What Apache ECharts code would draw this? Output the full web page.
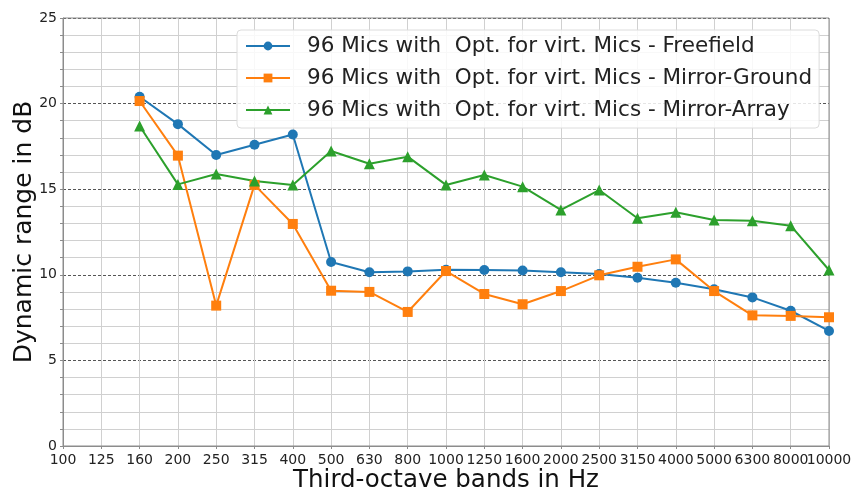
<!DOCTYPE html>
<html lang="en">
<head>
    <meta charset="UTF-8">
    <title>Dynamic range</title>
    <script type="text/javascript" src="https://cdn.jsdelivr.net/npm/echarts@6/dist/echarts.min.js"></script>
    <style>
        html, body { margin: 0; padding: 0; background: #fff; }
        #charts { width: 852px; height: 492px; }
    </style>
</head>
<body>
<div id="charts"></div>
<script>
    // third-octave bands, Hz
    var bands = ['100', '125', '160', '200', '250', '315', '400', '500', '630', '800', '1000',
        '1250', '1600', '2000', '2500', '3150', '4000', '5000', '6300', '8000', '10000']
    // dynamic range in dB (no data for 100 and 125)
    var freefield = [null, null, 20.4, 18.8, 17.0, 17.6, 18.2, 10.75, 10.15, 10.2, 10.3,
        10.28, 10.25, 10.15, 10.05, 9.83, 9.54, 9.15, 8.68, 7.9, 6.72]
    var mirrorGround = [null, null, 20.15, 16.96, 8.2, 15.25, 12.97, 9.07, 9.0, 7.83, 10.22,
        8.88, 8.28, 9.05, 9.97, 10.47, 10.9, 9.05, 7.63, 7.6, 7.52]
    var mirrorArray = [null, null, 18.69, 15.28, 15.89, 15.48, 15.25, 17.23, 16.49, 16.9, 15.25,
        15.83, 15.15, 13.79, 14.95, 13.3, 13.65, 13.2, 13.16, 12.87, 10.28]
    var names = ['96 Mics with  Opt. for virt. Mics - Freefield',
        '96 Mics with  Opt. for virt. Mics - Mirror-Ground',
        '96 Mics with  Opt. for virt. Mics - Mirror-Array']

    var font = 'DejaVu Sans'

    function line(name, data, color, symbol) {
        return {
            name: name, type: 'line', data: data, color: color,
            symbol: symbol, symbolSize: symbol == 'triangle' ? 11 : 10,
            showSymbol: true, connectNulls: false,
            lineStyle: {width: 2, color: color},
            itemStyle: {color: color},
            z: 5
        }
    }

    var chart = echarts.init(document.getElementById('charts'), null, {renderer: 'canvas'})
    chart.setOption({
        animation: false,
        backgroundColor: '#fff',
        textStyle: {fontFamily: font},
        grid: {
            left: 63, right: 23, top: 18, bottom: 46, outerBoundsMode: 'none',
            show: true, borderColor: '#8c8c8c', borderWidth: 1, z: 3
        },
        legend: {
            orient: 'vertical', left: 237, top: 30,
            itemWidth: 44, itemHeight: 11, itemGap: 10,
            padding: [5, 7, 7, 8],
            backgroundColor: 'rgba(255,255,255,0.85)',
            borderColor: '#dcdcdc', borderWidth: 1, borderRadius: 4,
            textStyle: {fontFamily: font, fontSize: 21.5, color: '#222', padding: [0, 0, 0, 12]},
            data: names
        },
        xAxis: {
            type: 'category', data: bands, boundaryGap: false,
            name: 'Third-octave bands in Hz', nameLocation: 'middle', nameGap: 22, nameMoveOverlap: false,
            nameTextStyle: {fontFamily: font, fontSize: 24.5, color: '#111'},
            axisLine: {show: true, lineStyle: {color: '#8c8c8c'}},
            axisTick: {show: true, length: 3, lineStyle: {color: '#8c8c8c'}},
            axisLabel: {fontFamily: font, fontSize: 14, color: '#222', margin: 7, interval: 0},
            splitLine: {show: true, lineStyle: {color: '#d0d0d0', width: 1}}
        },
        yAxis: {
            type: 'value', min: 0, max: 25, interval: 5,
            name: 'Dynamic range in dB', nameLocation: 'middle', nameGap: 26, nameMoveOverlap: false,
            nameTextStyle: {fontFamily: font, fontSize: 25, color: '#111'},
            axisLine: {show: true, lineStyle: {color: '#8c8c8c'}},
            axisTick: {show: true, length: 3, lineStyle: {color: '#8c8c8c'}},
            axisLabel: {fontFamily: font, fontSize: 14, color: '#222', margin: 6},
            splitLine: {show: true, lineStyle: {color: '#555', type: [3, 2], width: 1}},
            minorTick: {show: true, splitNumber: 5, length: 3, lineStyle: {color: '#8c8c8c'}},
            minorSplitLine: {show: true, lineStyle: {color: '#d0d0d0', width: 1}}
        },
        series: [
            line(names[0], freefield, '#1f77b4', 'circle'),
            line(names[1], mirrorGround, '#ff7f0e', 'rect'),
            line(names[2], mirrorArray, '#2ca02c', 'triangle')
        ]
    })
</script>
</body>
</html>
